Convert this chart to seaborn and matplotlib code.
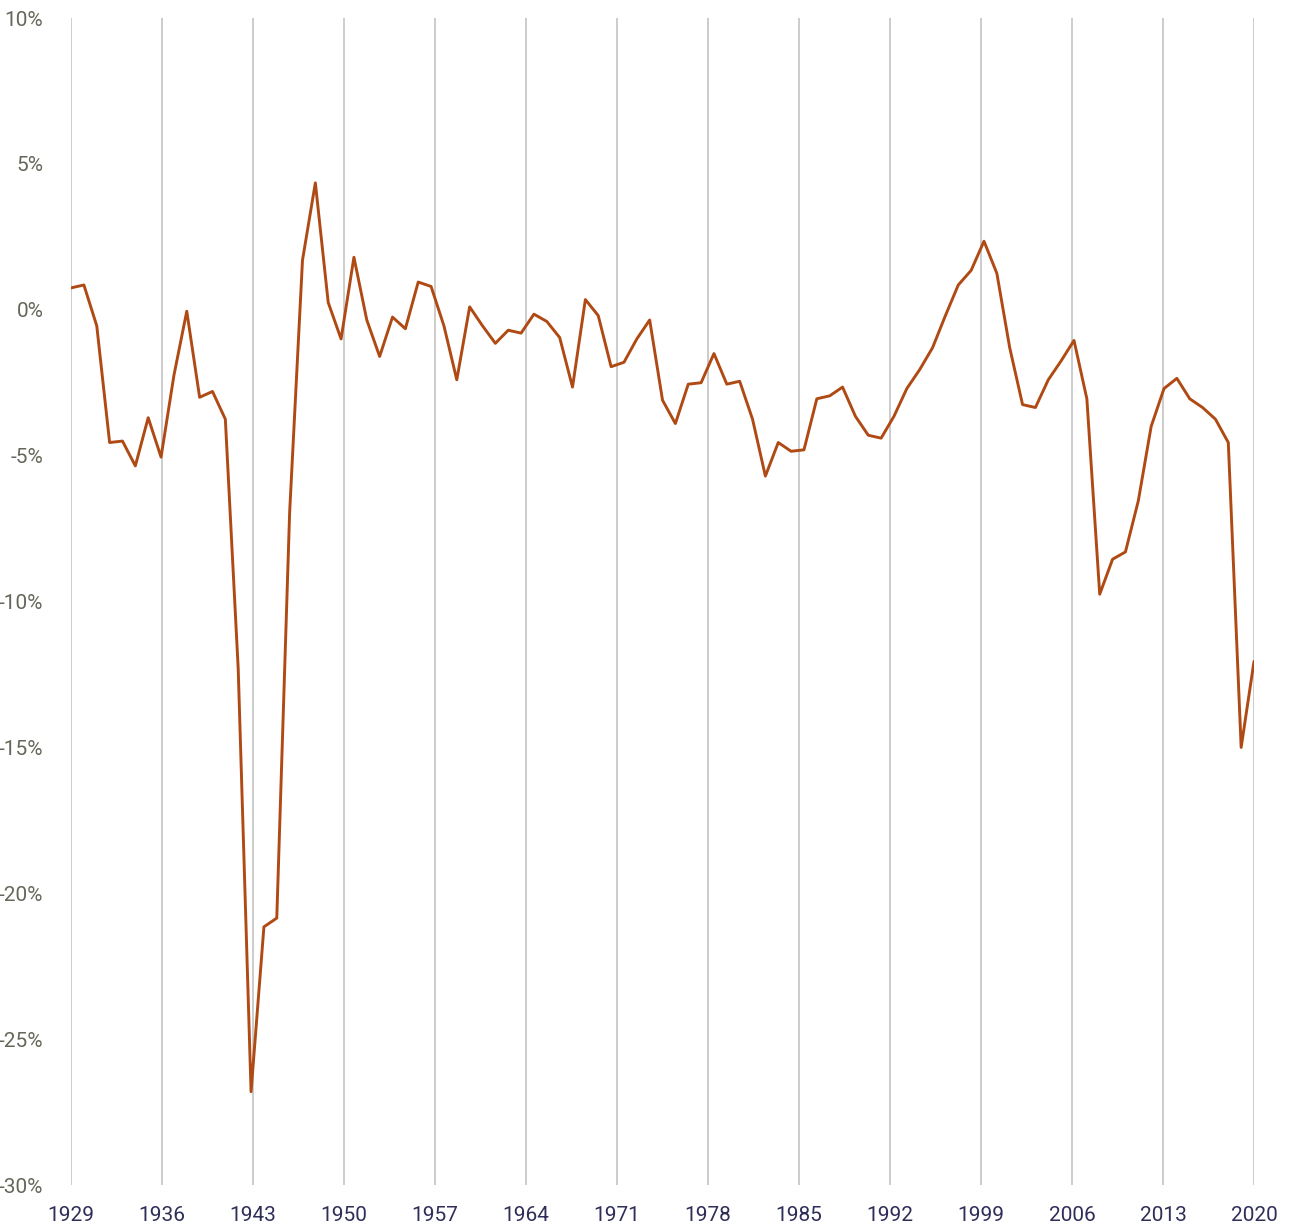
import matplotlib
matplotlib.use("Agg")
import matplotlib.pyplot as plt
import matplotlib.ticker as mticker
import pandas as pd
import seaborn as sns

# federal surplus / deficit, % of GDP, fiscal years 1929-2021
years = list(range(1929, 2022))
balance_pct = [
    0.75, 0.85, -0.55, -4.55, -4.5, -5.35, -3.7, -5.05, -2.25, -0.05,
    -3.0, -2.8, -3.75, -12.3, -26.8, -21.15, -20.85, -6.95, 1.7, 4.35,
    0.25, -1.0, 1.8, -0.35, -1.6, -0.25, -0.65, 0.95, 0.8, -0.55,
    -2.4, 0.1, -0.55, -1.15, -0.7, -0.8, -0.15, -0.4, -0.95, -2.65,
    0.35, -0.2, -1.95, -1.8, -1.0, -0.35, -3.1, -3.9, -2.55, -2.5,
    -1.5, -2.55, -2.45, -3.75, -5.7, -4.55, -4.85, -4.8, -3.05, -2.95,
    -2.65, -3.65, -4.3, -4.4, -3.65, -2.7, -2.05, -1.3, -0.2, 0.85,
    1.35, 2.35, 1.25, -1.3, -3.25, -3.35, -2.4, -1.75, -1.05, -3.05,
    -9.75, -8.55, -8.3, -6.55, -4.0, -2.7, -2.35, -3.05, -3.35, -3.75,
    -4.55, -15.0, -12.05,
]
# category labels shown under the axis
tick_labels = [str(y) for y in range(1929, 2021, 7)]
y_ticks = list(range(-30, 11, 5))

df = pd.DataFrame({"year": years, "balance": balance_pct})

sns.set_theme(style="white")
plt.rcParams["font.family"] = ["Liberation Sans Narrow", "Roboto", "DejaVu Sans"]

line_color = "#B04A14"
grid_color = "#C4C4C4"

fig = plt.figure(figsize=(12.94, 12.26), dpi=100)
ax = fig.add_axes([0.0549, 0.0334, 0.9142, 0.9519])

sns.lineplot(data=df, x="year", y="balance", color=line_color, linewidth=2.1, ax=ax)

# labels spread evenly across the full span of the data (category-axis look)
first, last = years[0], years[-1]
n = len(tick_labels)
tick_pos = [first + i * (last - first) / (n - 1) for i in range(n)]
ax.set_xticks(tick_pos)
ax.set_xticklabels(tick_labels)
ax.set_xlim(first, last)

ax.set_ylim(-30, 10)
ax.set_yticks(y_ticks)
ax.yaxis.set_major_formatter(mticker.FuncFormatter(lambda v, p: f"{v:.0f}%".replace("\u2212", "-")))

ax.grid(False)
ax.xaxis.grid(True, color=grid_color, linewidth=1.2)
ax.set_axisbelow(True)
for spine in ax.spines.values():
    spine.set_visible(False)

ax.tick_params(axis="x", length=0, pad=15, labelsize=15, labelcolor="#2E2E58")
ax.tick_params(axis="y", length=0, pad=20, labelsize=15, labelcolor="#66675A")
ax.set_xlabel("")
ax.set_ylabel("")

fig.savefig("out.png", dpi=100, facecolor="white")
